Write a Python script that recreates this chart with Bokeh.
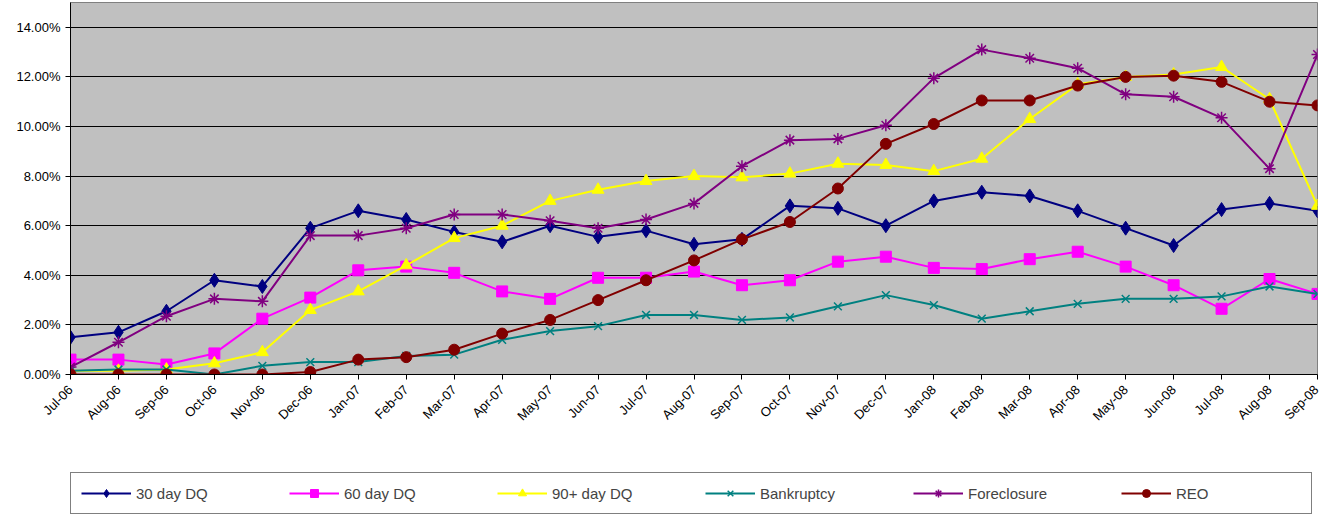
from bokeh.plotting import figure
from bokeh.layouts import column
from bokeh.models import FixedTicker, Legend, LegendItem, NumeralTickFormatter, Range1d
from bokeh.embed import file_html
from bokeh.resources import INLINE

months = ["Jul-06", "Aug-06", "Sep-06", "Oct-06", "Nov-06", "Dec-06", "Jan-07", "Feb-07", "Mar-07",
          "Apr-07", "May-07", "Jun-07", "Jul-07", "Aug-07", "Sep-07", "Oct-07", "Nov-07", "Dec-07",
          "Jan-08", "Feb-08", "Mar-08", "Apr-08", "May-08", "Jun-08", "Jul-08", "Aug-08", "Sep-08"]

dq30 = [1.5, 1.7, 2.55, 3.8, 3.55, 5.9, 6.6, 6.25, 5.75, 5.35, 6.0, 5.55, 5.8, 5.25, 5.45, 6.8, 6.7,
        6.0, 7.0, 7.35, 7.2, 6.6, 5.9, 5.2, 6.65, 6.9, 6.6]
dq60 = [0.6, 0.6, 0.4, 0.85, 2.25, 3.1, 4.2, 4.35, 4.1, 3.35, 3.05, 3.9, 3.9, 4.15, 3.6, 3.8, 4.55,
        4.75, 4.3, 4.25, 4.65, 4.95, 4.35, 3.6, 2.65, 3.85, 3.25]
dq90 = [0.15, 0.15, 0.2, 0.45, 0.9, 2.6, 3.35, 4.4, 5.5, 6.0, 7.0, 7.45, 7.8, 8.0, 7.95, 8.1, 8.5,
        8.45, 8.2, 8.7, 10.3, 11.7, 12.0, 12.1, 12.4, 11.1, 6.8]
bankruptcy = [0.15, 0.2, 0.2, 0.0, 0.35, 0.5, 0.5, 0.75, 0.8, 1.4, 1.75, 1.95, 2.4, 2.4, 2.2, 2.3,
              2.75, 3.2, 2.8, 2.25, 2.55, 2.85, 3.05, 3.05, 3.15, 3.55, 3.25]
foreclosure = [0.3, 1.3, 2.35, 3.05, 2.95, 5.6, 5.6, 5.9, 6.45, 6.45, 6.2, 5.9, 6.25, 6.9, 8.4, 9.45,
               9.5, 10.05, 11.95, 13.1, 12.75, 12.35, 11.3, 11.2, 10.35, 8.3, 12.9]
reo = [0, 0, 0, 0, 0, 0.1, 0.6, 0.7, 1.0, 1.65, 2.2, 3.0, 3.8, 4.6, 5.45, 6.15, 7.5, 9.3, 10.1,
       11.05, 11.05, 11.65, 12.0, 12.05, 11.8, 11.0, 10.85]

series = [
    ("30 day DQ", dq30, "#000080", "diamond", 14),
    ("60 day DQ", dq60, "#FF00FF", "square", 11),
    ("90+ day DQ", dq90, "#FFFF00", "triangle", 12),
    ("Bankruptcy", bankruptcy, "#008080", "x", 11),
    ("Foreclosure", foreclosure, "#800080", "asterisk", 12),
    ("REO", reo, "#800000", "circle", 11),
]

x = list(range(len(months)))

p = figure(frame_width=1247, frame_height=372, output_backend="svg", toolbar_location=None,
           x_range=Range1d(0, len(months) - 1), y_range=Range1d(0, 0.15),
           min_border_left=70, min_border_right=4, min_border_top=2, min_border_bottom=96,
           border_fill_color="white")
p.background_fill_color = "#C0C0C0"
p.outline_line_color = "#808080"

p.xgrid.grid_line_color = None
p.ygrid.grid_line_color = "black"
p.ygrid.ticker = FixedTicker(ticks=[i / 100 for i in range(0, 15, 2)])

p.yaxis.ticker = FixedTicker(ticks=[i / 100 for i in range(0, 15, 2)])
p.yaxis.formatter = NumeralTickFormatter(format="0.00%")
p.xaxis.ticker = FixedTicker(ticks=x)
p.xaxis.major_label_overrides = {i: m for i, m in enumerate(months)}
p.xaxis.major_label_orientation = 0.785
p.xaxis.major_label_standoff = 8
for ax in (p.xaxis[0], p.yaxis[0]):
    ax.major_label_text_font = "Liberation Sans"
    ax.major_label_text_font_size = "13px"
    ax.major_label_text_color = "black"
    ax.axis_line_color = "black"
    ax.major_tick_line_color = "black"
    ax.minor_tick_line_color = None
    ax.major_tick_in = 0
    ax.major_tick_out = 5

# legend lives in its own strip below the chart
lg = figure(width=1321, height=44, output_backend="svg", toolbar_location=None,
            x_range=Range1d(0, 1), y_range=Range1d(0, 1),
            min_border_left=0, min_border_right=0, min_border_top=0, min_border_bottom=0)
lg.axis.visible = False
lg.grid.visible = False
lg.outline_line_color = None

items = []
for name, vals, color, marker, size in series:
    y = [v / 100 for v in vals]
    p.line(x, y, line_color=color, line_width=2)
    p.scatter(x, y, marker=marker, size=size, fill_color=color, line_color=color,
              line_width=1.5 if marker in ("x", "asterisk") else 1)
    # keys drawn off-range so only their legend glyphs show
    k1 = lg.line([-5, -4], [-5, -4], line_color=color, line_width=2)
    k2 = lg.scatter([-5], [-5], marker=marker, size=size, fill_color=color, line_color=color,
                    line_width=1.5 if marker in ("x", "asterisk") else 1)
    items.append(LegendItem(label=name, renderers=[k1, k2]))

legend = Legend(items=items, orientation="horizontal", location="bottom_left",
                label_text_font="Liberation Sans", label_text_font_size="15px",
                glyph_width=50, label_width=125, spacing=28, padding=10, margin=0,
                border_line_color="black", background_fill_color="white")
lg.add_layout(legend, "center")

open("out.html", "w").write(file_html(column(p, lg, spacing=0), INLINE))
